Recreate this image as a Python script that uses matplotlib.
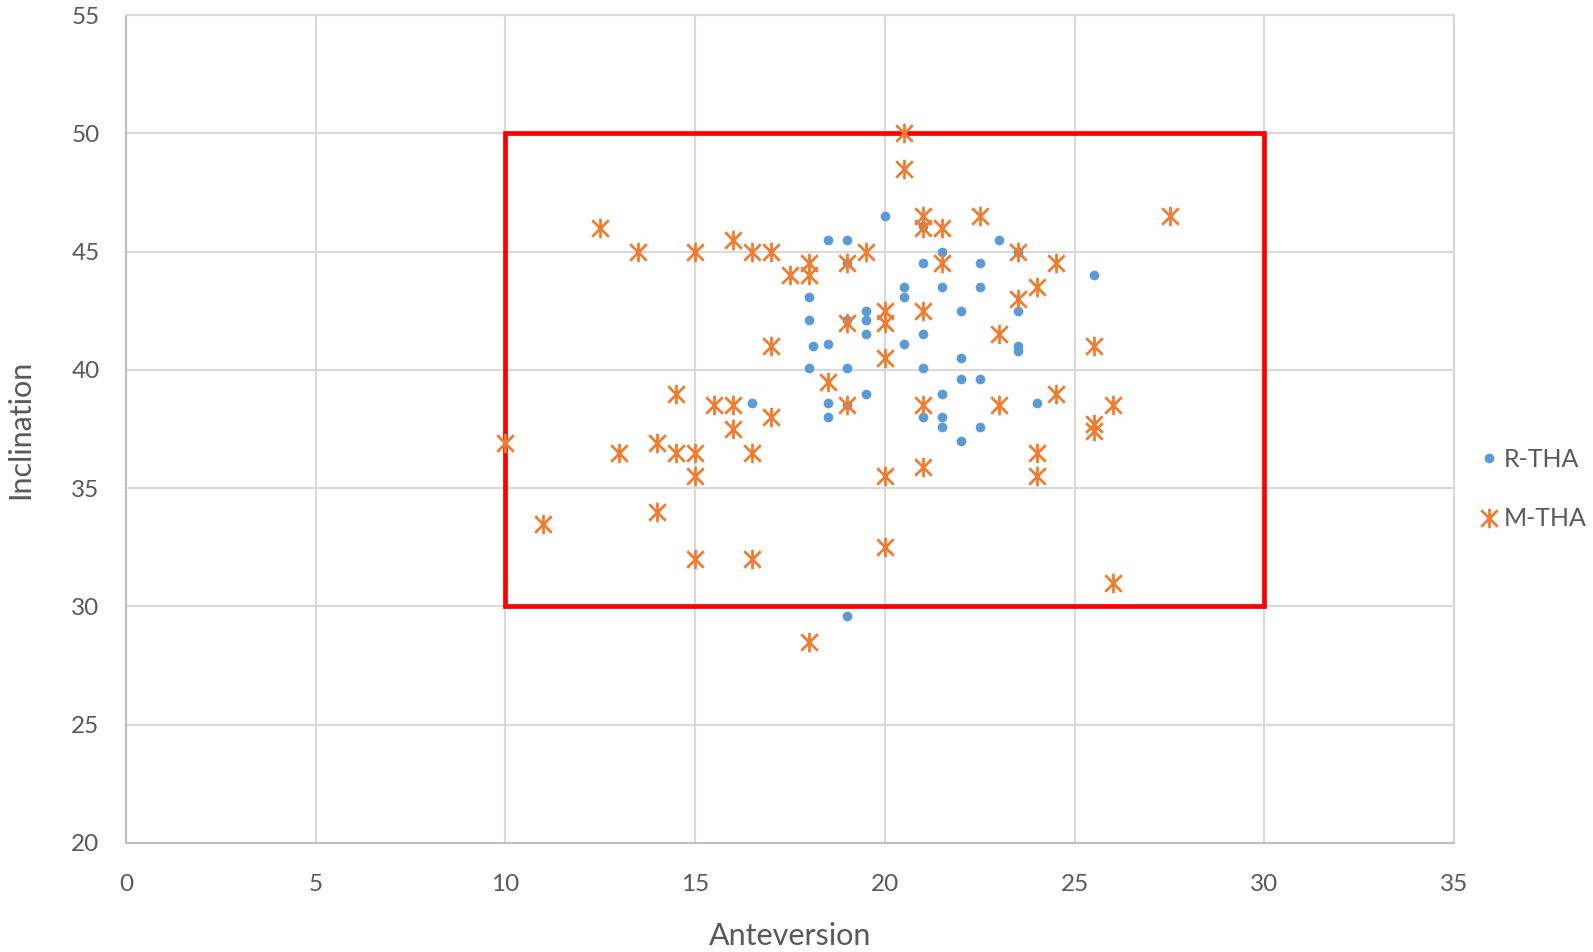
import matplotlib.pyplot as plt
from matplotlib.patches import Rectangle
from matplotlib.path import Path
from matplotlib.lines import Line2D

# R-THA cup positions (anteversion, inclination)
r_tha_antev = [20, 18.5, 19, 21, 23, 21.5, 23.5, 19, 21, 22.5, 25.5,
               18, 20.5, 20.5, 21.5, 22.5, 23.5, 22, 19.5, 19.5, 18, 19,
               19.5, 21, 18.1, 18.5, 20.5, 23.5, 23.5, 22, 18, 19, 21,
               22, 22.5, 21.5, 19.5, 18.5, 19, 24, 16.5, 18.5, 21, 21.5,
               21.5, 22.5, 22, 19]
r_tha_incl = [46.5, 45.5, 45.5, 46.1, 45.5, 45, 45, 44.5, 44.5, 44.5, 44,
              43.1, 43.5, 43.1, 43.5, 43.5, 42.5, 42.5, 42.5, 42.1, 42.1, 42.1,
              41.5, 41.5, 41, 41.1, 41.1, 41, 40.8, 40.5, 40.1, 40.1, 40.1,
              39.6, 39.6, 39, 39, 38.6, 38.5, 38.6, 38.6, 38, 38, 38,
              37.6, 37.6, 37, 29.6]

# M-THA cup positions
m_tha_antev = [20.5, 20.5, 27.5, 12.5, 21, 21, 21.5, 22.5, 13.5, 15, 16,
               16.5, 17, 19.5, 23.5, 17.5, 18, 18, 19, 21.5, 24.5, 24,
               23.5, 20, 20, 19, 21, 23, 17, 25.5, 20, 18.5, 14.5, 24.5,
               15.5, 16, 19, 21, 23, 26, 17, 16, 25.5, 25.5, 10, 14, 13,
               14.5, 15, 16.5, 24, 15, 20, 24, 21, 14, 11, 20, 15, 16.5,
               26, 18]
m_tha_incl = [50, 48.5, 46.5, 46, 46.5, 46, 46, 46.5, 45, 45, 45.5,
              45, 45, 45, 45, 44, 44.5, 44, 44.5, 44.5, 44.5, 43.5,
              43, 42.5, 42, 42, 42.5, 41.5, 41, 41, 40.5, 39.5, 39, 39,
              38.5, 38.5, 38.5, 38.5, 38.5, 38.5, 38, 37.5, 37.7, 37.4, 36.9, 36.9, 36.5,
              36.5, 36.5, 36.5, 36.5, 35.5, 35.5, 35.5, 35.9, 34, 33.5, 32.5, 32, 32,
              31, 28.5]

# safe zone (anteversion 10-30, inclination 30-50)
zone_antev = (10, 30)
zone_incl = (30, 50)

BLUE = "#5b9bd5"
ORANGE = "#ed7d31"
TEXT = "#595959"

plt.rcParams["font.family"] = ["Lato", "DejaVu Sans"]

# Excel-style asterisk: vertical bar plus an X
star = Path(
    [(0, -1), (0, 1), (-0.85, -0.85), (0.85, 0.85), (-0.85, 0.85), (0.85, -0.85)],
    [Path.MOVETO, Path.LINETO, Path.MOVETO, Path.LINETO, Path.MOVETO, Path.LINETO],
)

fig = plt.figure(figsize=(15.93, 9.52), dpi=100)
ax = fig.add_axes([0.0791, 0.1145, 0.8337, 0.8697])

ax.add_patch(Rectangle((zone_antev[0], zone_incl[0]),
                       zone_antev[1] - zone_antev[0], zone_incl[1] - zone_incl[0],
                       fill=False, edgecolor="#ff0000", linewidth=3.4, zorder=2))

ax.plot(r_tha_antev, r_tha_incl, linestyle="none", marker="o", markersize=7,
        color=BLUE, markeredgewidth=0, zorder=3)
ax.plot(m_tha_antev, m_tha_incl, linestyle="none", marker=star, markersize=14,
        color=ORANGE, markeredgewidth=2.0, markerfacecolor="none", zorder=4)

ax.set_xlim(0, 35)
ax.set_ylim(20, 55)
ax.set_xticks(range(0, 36, 5))
ax.set_yticks(range(20, 56, 5))
ax.grid(True, color="#d9d9d9", linewidth=1.5, zorder=0)
ax.set_axisbelow(True)
for side in ["top", "right"]:
    ax.spines[side].set_color("#d9d9d9")
    ax.spines[side].set_linewidth(1.5)
for side in ["left", "bottom"]:
    ax.spines[side].set_color("#bfbfbf")
    ax.spines[side].set_linewidth(1.5)
ax.tick_params(length=0, labelsize=17.5, labelcolor=TEXT)
ax.tick_params(axis="x", pad=22)
ax.tick_params(axis="y", pad=19)

ax.set_xlabel("Anteversion", fontsize=22, color=TEXT, labelpad=20)
ax.set_ylabel("Inclination", fontsize=22, color=TEXT, labelpad=27)

handles = [
    Line2D([], [], linestyle="none", marker="o", markersize=7, color=BLUE,
           markeredgewidth=0),
    Line2D([], [], linestyle="none", marker=star, markersize=14, color=ORANGE,
           markeredgewidth=2.0),
]
fig.legend(handles, ["R-THA", "M-THA"], loc="center left",
           bbox_to_anchor=(0.922, 0.486), frameon=False, fontsize=18,
           labelcolor=TEXT, handlelength=0.6, handletextpad=0.3,
           labelspacing=1.45, borderpad=0)

fig.savefig("out.png", dpi=100)
